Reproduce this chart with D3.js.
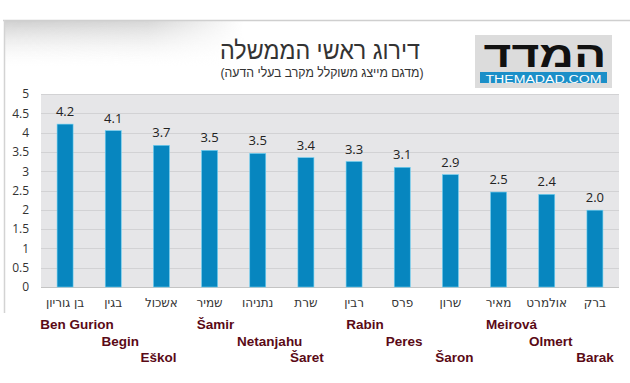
<!DOCTYPE html>
<html><head><meta charset="utf-8">
<script src="https://cdn.jsdelivr.net/npm/d3@7/dist/d3.min.js"></script>
<style>body{margin:0;background:#fff}svg{display:block}</style>
</head><body>
<svg id="chart" width="630" height="383"></svg>
<script>
const hebrewNames = ["בן גוריון","בגין","אשכול","שמיר","נתניהו","שרת","רבין","פרס","שרון","מאיר","אולמרט","ברק"];
const englishNames = ["Ben Gurion","Begin","Eškol","Šamir","Netanjahu","Šaret","Rabin","Peres","Šaron","Meirová","Olmert","Barak"];
const englishRow = [0,1,2,0,1,2,0,1,2,0,1,2];
const ratings = [4.22,4.05,3.67,3.54,3.46,3.35,3.25,3.10,2.91,2.46,2.40,1.99];
const ratingLabels = ["4.2","4.1","3.7","3.5","3.5","3.4","3.3","3.1","2.9","2.5","2.4","2.0"];
const yTicks = [0,0.5,1,1.5,2,2.5,3,3.5,4,4.5,5];
const yTickLabels = ["0","0.5","1","1.5","2","2.5","3","3.5","4","4.5","5"];
const titleText = "דירוג ראשי הממשלה";
const subtitleText = "(מדגם מייצג משוקלל מקרב בעלי הדעה)";

// layout (not data)
const englishDx = [12,7,-3,6,12,1,11,2,4,13,4,0];
const plot = {left:41, right:619, top:94, bottom:287};

const svg = d3.select("#chart");
const defs = svg.append("defs");
const g1 = defs.append("linearGradient").attr("id","shadeV").attr("x1",0).attr("y1",0).attr("x2",0).attr("y2",1);
g1.append("stop").attr("offset",0).attr("stop-color","#c8c8c8").attr("stop-opacity",0.9);
g1.append("stop").attr("offset",1).attr("stop-color","#ffffff").attr("stop-opacity",0);
const g2 = defs.append("linearGradient").attr("id","fadeH").attr("x1",0).attr("y1",0).attr("x2",1).attr("y2",0);
g2.append("stop").attr("offset",0).attr("stop-color","#fff").attr("stop-opacity",1);
g2.append("stop").attr("offset",0.6).attr("stop-color","#fff").attr("stop-opacity",0.85);
g2.append("stop").attr("offset",1).attr("stop-color","#fff").attr("stop-opacity",0);
const mask = defs.append("mask").attr("id","shMask");
mask.append("rect").attr("x",4).attr("y",20).attr("width",240).attr("height",50).attr("fill","url(#fadeH)");

// frame + shadow
svg.append("rect").attr("x",4).attr("y",20).attr("width",240).attr("height",50)
  .attr("fill","url(#shadeV)").attr("mask","url(#shMask)");
svg.append("line").attr("x1",3).attr("x2",630).attr("y1",20.5).attr("y2",20.5).attr("stroke","#cfcfcf").attr("stroke-width",1.5);
svg.append("line").attr("x1",4.5).attr("x2",4.5).attr("y1",20).attr("y2",313).attr("stroke","#d3d3d3").attr("stroke-width",1.5);

// titles
const titleFont = "'Liberation Sans','DejaVu Sans',sans-serif";
svg.append("text").attr("x",320).attr("y",59).attr("text-anchor","middle")
  .attr("font-family",titleFont).attr("font-size",25).attr("fill","#333")
  .attr("textLength",200).attr("lengthAdjust","spacingAndGlyphs")
  .attr("direction","rtl").text(titleText);
svg.append("text").attr("x",322).attr("y",76.5).attr("text-anchor","middle")
  .attr("font-family",titleFont).attr("font-size",13).attr("fill","#333")
  .attr("textLength",203).attr("lengthAdjust","spacingAndGlyphs")
  .attr("direction","rtl").text(subtitleText);

// logo
const logo = svg.append("g");
logo.append("rect").attr("x",475).attr("y",35).attr("width",137).attr("height",53).attr("fill","#dcdcdc");
logo.append("text").attr("x",545).attr("y",66.5).attr("text-anchor","middle")
  .attr("font-family","'Liberation Sans','DejaVu Sans',sans-serif").attr("font-weight","bold").attr("font-size",36)
  .attr("fill","#111").attr("textLength",123).attr("lengthAdjust","spacingAndGlyphs").text("המדד");
logo.append("rect").attr("x",480).attr("y",72).attr("width",127).attr("height",11).attr("fill","#1b8fc8");
logo.append("text").attr("x",543.5).attr("y",82.5).attr("text-anchor","middle")
  .attr("font-family","'Liberation Sans',Arial,sans-serif").attr("font-size",10)
  .attr("fill","#fff").attr("textLength",116).attr("lengthAdjust","spacingAndGlyphs").text("THEMADAD.COM");

// scales
const x = d3.scaleBand().domain(d3.range(hebrewNames.length)).range([plot.left,plot.right])
  .paddingInner(0.668).paddingOuter(0.334);
const y = d3.scaleLinear().domain([0,5]).range([plot.bottom,plot.top]);

svg.append("rect").attr("x",plot.left).attr("y",plot.top).attr("width",plot.right-plot.left)
  .attr("height",plot.bottom-plot.top).attr("fill","#e6e6e8");

// gridlines
svg.append("g").selectAll("line").data(yTicks).join("line")
  .attr("x1",plot.left).attr("x2",plot.right)
  .attr("y1",d=>Math.round(y(d))+0.5).attr("y2",d=>Math.round(y(d))+0.5)
  .attr("stroke",d=>d===0?"#c4c4c4":"#d2d2d4").attr("stroke-width",1);

// y axis labels
const yAxis = d3.axisLeft(y).tickValues(yTicks).tickSize(0).tickPadding(0)
  .tickFormat((d,i)=>yTickLabels[i]);
const ya = svg.append("g").attr("transform","translate(29,0)").call(yAxis);
ya.select(".domain").remove();
ya.selectAll("text").attr("font-family","'Open Sans','DejaVu Sans',sans-serif").attr("font-size",12).attr("fill","#333");

// bars
svg.append("g").selectAll("rect").data(ratings).join("rect")
  .attr("x",(d,i)=>x(i)).attr("width",x.bandwidth())
  .attr("y",d=>y(d)).attr("height",d=>y(0)-y(d))
  .attr("fill","#0786bf").attr("stroke","#6fd0f2").attr("stroke-width",0.6);

// value labels
svg.append("g").selectAll("text").data(ratings).join("text")
  .attr("x",(d,i)=>x(i)+x.bandwidth()/2).attr("y",d=>y(d)-8)
  .attr("text-anchor","middle").attr("font-family","'Open Sans','DejaVu Sans',sans-serif")
  .attr("font-size",13).attr("fill","#222").text((d,i)=>ratingLabels[i]);

// hebrew category labels
svg.append("g").selectAll("text").data(hebrewNames).join("text")
  .attr("x",(d,i)=>x(i)+x.bandwidth()/2).attr("y",307)
  .attr("text-anchor","middle").attr("direction","rtl")
  .attr("font-family","'DejaVu Sans',sans-serif").attr("font-size",12).attr("fill","#333").text(d=>d);

// english labels
const rowY = [329,346,362];
svg.append("g").selectAll("text").data(englishNames).join("text")
  .attr("x",(d,i)=>x(i)+x.bandwidth()/2+englishDx[i]).attr("y",(d,i)=>rowY[englishRow[i]])
  .attr("text-anchor","middle").attr("font-family","'Liberation Sans',Arial,sans-serif")
  .attr("font-weight","bold").attr("font-size",13.5).attr("fill","#5a0a16").text(d=>d);
</script>
</body></html>
